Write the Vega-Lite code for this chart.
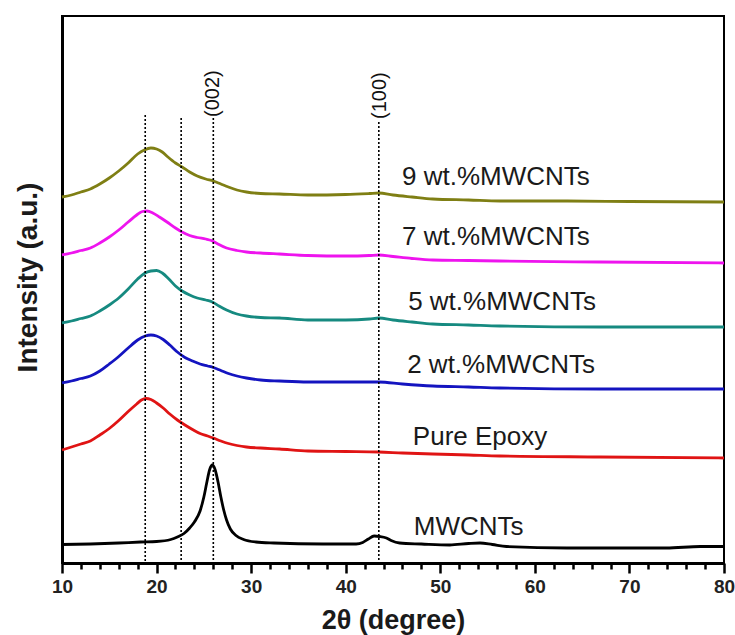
{
  "$schema": "https://vega.github.io/schema/vega-lite/v6.json",
  "width": 662,
  "height": 547,
  "autosize": {"type": "none"},
  "padding": {"left": 62, "top": 16, "right": 11, "bottom": 72},
  "background": "white",
  "config": {
    "view": {"stroke": "black", "strokeWidth": 2},
    "font": "Liberation Sans"
  },
  "datasets": {
    "curves": [
      {"s": "9 wt.%MWCNTs", "x": 10.0, "y": 366}, {"s": "9 wt.%MWCNTs", "x": 11.0, "y": 368}, {"s": "9 wt.%MWCNTs", "x": 12.0, "y": 371}, {"s": "9 wt.%MWCNTs", "x": 13.0, "y": 374}, {"s": "9 wt.%MWCNTs", "x": 14.0, "y": 379}, {"s": "9 wt.%MWCNTs", "x": 15.0, "y": 385}, {"s": "9 wt.%MWCNTs", "x": 16.0, "y": 392}, {"s": "9 wt.%MWCNTs", "x": 17.0, "y": 400}, {"s": "9 wt.%MWCNTs", "x": 18.0, "y": 409}, {"s": "9 wt.%MWCNTs", "x": 18.7, "y": 413}, {"s": "9 wt.%MWCNTs", "x": 19.4, "y": 415}, {"s": "9 wt.%MWCNTs", "x": 20.0, "y": 414}, {"s": "9 wt.%MWCNTs", "x": 20.6, "y": 411}, {"s": "9 wt.%MWCNTs", "x": 21.2, "y": 406}, {"s": "9 wt.%MWCNTs", "x": 22.0, "y": 400}, {"s": "9 wt.%MWCNTs", "x": 22.7, "y": 396}, {"s": "9 wt.%MWCNTs", "x": 23.5, "y": 391}, {"s": "9 wt.%MWCNTs", "x": 24.3, "y": 387}, {"s": "9 wt.%MWCNTs", "x": 25.2, "y": 384}, {"s": "9 wt.%MWCNTs", "x": 26.0, "y": 382}, {"s": "9 wt.%MWCNTs", "x": 26.8, "y": 379}, {"s": "9 wt.%MWCNTs", "x": 27.6, "y": 376}, {"s": "9 wt.%MWCNTs", "x": 28.5, "y": 373}, {"s": "9 wt.%MWCNTs", "x": 29.5, "y": 371}, {"s": "9 wt.%MWCNTs", "x": 31.0, "y": 369.5}, {"s": "9 wt.%MWCNTs", "x": 33.0, "y": 369}, {"s": "9 wt.%MWCNTs", "x": 36.0, "y": 368}, {"s": "9 wt.%MWCNTs", "x": 40.0, "y": 368.5}, {"s": "9 wt.%MWCNTs", "x": 42.5, "y": 369.5}, {"s": "9 wt.%MWCNTs", "x": 43.5, "y": 370}, {"s": "9 wt.%MWCNTs", "x": 45.0, "y": 368}, {"s": "9 wt.%MWCNTs", "x": 47.0, "y": 366}, {"s": "9 wt.%MWCNTs", "x": 49.2, "y": 364}, {"s": "9 wt.%MWCNTs", "x": 53.0, "y": 363}, {"s": "9 wt.%MWCNTs", "x": 56.3, "y": 362}, {"s": "9 wt.%MWCNTs", "x": 63.4, "y": 362}, {"s": "9 wt.%MWCNTs", "x": 70.0, "y": 361.5}, {"s": "9 wt.%MWCNTs", "x": 80.0, "y": 361},
      {"s": "7 wt.%MWCNTs", "x": 10.0, "y": 308}, {"s": "7 wt.%MWCNTs", "x": 11.0, "y": 310}, {"s": "7 wt.%MWCNTs", "x": 12.0, "y": 312.5}, {"s": "7 wt.%MWCNTs", "x": 13.0, "y": 315}, {"s": "7 wt.%MWCNTs", "x": 14.0, "y": 320}, {"s": "7 wt.%MWCNTs", "x": 15.0, "y": 326}, {"s": "7 wt.%MWCNTs", "x": 16.0, "y": 333}, {"s": "7 wt.%MWCNTs", "x": 17.0, "y": 341}, {"s": "7 wt.%MWCNTs", "x": 17.9, "y": 348}, {"s": "7 wt.%MWCNTs", "x": 18.5, "y": 351.5}, {"s": "7 wt.%MWCNTs", "x": 19.0, "y": 352}, {"s": "7 wt.%MWCNTs", "x": 19.6, "y": 350}, {"s": "7 wt.%MWCNTs", "x": 20.3, "y": 346}, {"s": "7 wt.%MWCNTs", "x": 21.1, "y": 341}, {"s": "7 wt.%MWCNTs", "x": 22.0, "y": 335}, {"s": "7 wt.%MWCNTs", "x": 22.7, "y": 331}, {"s": "7 wt.%MWCNTs", "x": 23.5, "y": 327.5}, {"s": "7 wt.%MWCNTs", "x": 24.3, "y": 325.5}, {"s": "7 wt.%MWCNTs", "x": 25.2, "y": 324}, {"s": "7 wt.%MWCNTs", "x": 25.8, "y": 322.5}, {"s": "7 wt.%MWCNTs", "x": 26.4, "y": 319.5}, {"s": "7 wt.%MWCNTs", "x": 27.4, "y": 315}, {"s": "7 wt.%MWCNTs", "x": 28.5, "y": 312.5}, {"s": "7 wt.%MWCNTs", "x": 29.5, "y": 311}, {"s": "7 wt.%MWCNTs", "x": 31.0, "y": 310}, {"s": "7 wt.%MWCNTs", "x": 33.0, "y": 309}, {"s": "7 wt.%MWCNTs", "x": 36.0, "y": 307.5}, {"s": "7 wt.%MWCNTs", "x": 40.0, "y": 307}, {"s": "7 wt.%MWCNTs", "x": 42.5, "y": 307.5}, {"s": "7 wt.%MWCNTs", "x": 43.5, "y": 308}, {"s": "7 wt.%MWCNTs", "x": 45.0, "y": 306.5}, {"s": "7 wt.%MWCNTs", "x": 47.0, "y": 304.5}, {"s": "7 wt.%MWCNTs", "x": 49.2, "y": 303}, {"s": "7 wt.%MWCNTs", "x": 53.0, "y": 302.5}, {"s": "7 wt.%MWCNTs", "x": 56.3, "y": 302}, {"s": "7 wt.%MWCNTs", "x": 66.9, "y": 301}, {"s": "7 wt.%MWCNTs", "x": 80.0, "y": 300},
      {"s": "5 wt.%MWCNTs", "x": 10.0, "y": 240}, {"s": "5 wt.%MWCNTs", "x": 11.0, "y": 242}, {"s": "5 wt.%MWCNTs", "x": 12.0, "y": 244.5}, {"s": "5 wt.%MWCNTs", "x": 13.0, "y": 247}, {"s": "5 wt.%MWCNTs", "x": 14.0, "y": 252}, {"s": "5 wt.%MWCNTs", "x": 15.0, "y": 258}, {"s": "5 wt.%MWCNTs", "x": 16.0, "y": 265}, {"s": "5 wt.%MWCNTs", "x": 17.0, "y": 274}, {"s": "5 wt.%MWCNTs", "x": 18.0, "y": 284}, {"s": "5 wt.%MWCNTs", "x": 18.7, "y": 289.5}, {"s": "5 wt.%MWCNTs", "x": 19.4, "y": 292}, {"s": "5 wt.%MWCNTs", "x": 20.0, "y": 292.5}, {"s": "5 wt.%MWCNTs", "x": 20.6, "y": 290}, {"s": "5 wt.%MWCNTs", "x": 21.3, "y": 284}, {"s": "5 wt.%MWCNTs", "x": 22.0, "y": 277}, {"s": "5 wt.%MWCNTs", "x": 22.7, "y": 272}, {"s": "5 wt.%MWCNTs", "x": 23.5, "y": 268}, {"s": "5 wt.%MWCNTs", "x": 24.3, "y": 265}, {"s": "5 wt.%MWCNTs", "x": 25.2, "y": 263}, {"s": "5 wt.%MWCNTs", "x": 25.9, "y": 261}, {"s": "5 wt.%MWCNTs", "x": 26.6, "y": 257}, {"s": "5 wt.%MWCNTs", "x": 27.4, "y": 253}, {"s": "5 wt.%MWCNTs", "x": 28.5, "y": 249}, {"s": "5 wt.%MWCNTs", "x": 29.5, "y": 247}, {"s": "5 wt.%MWCNTs", "x": 31.0, "y": 245.5}, {"s": "5 wt.%MWCNTs", "x": 33.0, "y": 245}, {"s": "5 wt.%MWCNTs", "x": 36.0, "y": 243}, {"s": "5 wt.%MWCNTs", "x": 40.0, "y": 243}, {"s": "5 wt.%MWCNTs", "x": 42.5, "y": 244}, {"s": "5 wt.%MWCNTs", "x": 43.5, "y": 245}, {"s": "5 wt.%MWCNTs", "x": 45.0, "y": 243}, {"s": "5 wt.%MWCNTs", "x": 47.0, "y": 241}, {"s": "5 wt.%MWCNTs", "x": 49.2, "y": 239}, {"s": "5 wt.%MWCNTs", "x": 53.0, "y": 238}, {"s": "5 wt.%MWCNTs", "x": 56.3, "y": 237}, {"s": "5 wt.%MWCNTs", "x": 66.9, "y": 236}, {"s": "5 wt.%MWCNTs", "x": 80.0, "y": 236},
      {"s": "2 wt.%MWCNTs", "x": 10.0, "y": 180}, {"s": "2 wt.%MWCNTs", "x": 11.0, "y": 182}, {"s": "2 wt.%MWCNTs", "x": 12.0, "y": 184.5}, {"s": "2 wt.%MWCNTs", "x": 13.0, "y": 187}, {"s": "2 wt.%MWCNTs", "x": 14.0, "y": 192}, {"s": "2 wt.%MWCNTs", "x": 15.0, "y": 199}, {"s": "2 wt.%MWCNTs", "x": 16.0, "y": 206.5}, {"s": "2 wt.%MWCNTs", "x": 17.0, "y": 215}, {"s": "2 wt.%MWCNTs", "x": 18.0, "y": 223}, {"s": "2 wt.%MWCNTs", "x": 18.8, "y": 227}, {"s": "2 wt.%MWCNTs", "x": 19.4, "y": 228}, {"s": "2 wt.%MWCNTs", "x": 20.0, "y": 227}, {"s": "2 wt.%MWCNTs", "x": 20.7, "y": 223.5}, {"s": "2 wt.%MWCNTs", "x": 21.4, "y": 218}, {"s": "2 wt.%MWCNTs", "x": 22.2, "y": 211}, {"s": "2 wt.%MWCNTs", "x": 23.0, "y": 205.5}, {"s": "2 wt.%MWCNTs", "x": 23.8, "y": 202}, {"s": "2 wt.%MWCNTs", "x": 24.6, "y": 199}, {"s": "2 wt.%MWCNTs", "x": 25.4, "y": 197}, {"s": "2 wt.%MWCNTs", "x": 26.0, "y": 195.5}, {"s": "2 wt.%MWCNTs", "x": 26.8, "y": 192.5}, {"s": "2 wt.%MWCNTs", "x": 27.6, "y": 189.5}, {"s": "2 wt.%MWCNTs", "x": 28.5, "y": 187}, {"s": "2 wt.%MWCNTs", "x": 29.5, "y": 185}, {"s": "2 wt.%MWCNTs", "x": 31.0, "y": 183}, {"s": "2 wt.%MWCNTs", "x": 33.0, "y": 182}, {"s": "2 wt.%MWCNTs", "x": 36.0, "y": 181}, {"s": "2 wt.%MWCNTs", "x": 40.0, "y": 181}, {"s": "2 wt.%MWCNTs", "x": 43.5, "y": 181}, {"s": "2 wt.%MWCNTs", "x": 46.0, "y": 179}, {"s": "2 wt.%MWCNTs", "x": 49.2, "y": 177}, {"s": "2 wt.%MWCNTs", "x": 53.0, "y": 176}, {"s": "2 wt.%MWCNTs", "x": 56.3, "y": 175}, {"s": "2 wt.%MWCNTs", "x": 66.9, "y": 174}, {"s": "2 wt.%MWCNTs", "x": 80.0, "y": 174},
      {"s": "Pure Epoxy", "x": 10.0, "y": 113}, {"s": "Pure Epoxy", "x": 11.0, "y": 116}, {"s": "Pure Epoxy", "x": 12.0, "y": 119}, {"s": "Pure Epoxy", "x": 13.0, "y": 122}, {"s": "Pure Epoxy", "x": 14.0, "y": 128}, {"s": "Pure Epoxy", "x": 15.0, "y": 134.5}, {"s": "Pure Epoxy", "x": 16.0, "y": 142.5}, {"s": "Pure Epoxy", "x": 17.0, "y": 151.5}, {"s": "Pure Epoxy", "x": 17.9, "y": 159}, {"s": "Pure Epoxy", "x": 18.4, "y": 163}, {"s": "Pure Epoxy", "x": 18.9, "y": 164.5}, {"s": "Pure Epoxy", "x": 19.4, "y": 163.5}, {"s": "Pure Epoxy", "x": 20.0, "y": 160}, {"s": "Pure Epoxy", "x": 20.7, "y": 155}, {"s": "Pure Epoxy", "x": 21.4, "y": 149}, {"s": "Pure Epoxy", "x": 22.2, "y": 143}, {"s": "Pure Epoxy", "x": 23.0, "y": 138}, {"s": "Pure Epoxy", "x": 23.8, "y": 133.5}, {"s": "Pure Epoxy", "x": 24.6, "y": 129.5}, {"s": "Pure Epoxy", "x": 25.4, "y": 127}, {"s": "Pure Epoxy", "x": 26.0, "y": 125}, {"s": "Pure Epoxy", "x": 26.8, "y": 122}, {"s": "Pure Epoxy", "x": 27.6, "y": 119.5}, {"s": "Pure Epoxy", "x": 28.5, "y": 117.5}, {"s": "Pure Epoxy", "x": 29.5, "y": 116}, {"s": "Pure Epoxy", "x": 31.0, "y": 115}, {"s": "Pure Epoxy", "x": 33.0, "y": 114}, {"s": "Pure Epoxy", "x": 36.0, "y": 112}, {"s": "Pure Epoxy", "x": 40.0, "y": 111.5}, {"s": "Pure Epoxy", "x": 43.5, "y": 111}, {"s": "Pure Epoxy", "x": 46.0, "y": 110}, {"s": "Pure Epoxy", "x": 49.2, "y": 109}, {"s": "Pure Epoxy", "x": 53.0, "y": 108}, {"s": "Pure Epoxy", "x": 56.3, "y": 107}, {"s": "Pure Epoxy", "x": 66.9, "y": 106}, {"s": "Pure Epoxy", "x": 80.0, "y": 105},
      {"s": "MWCNTs", "x": 10.0, "y": 18.5}, {"s": "MWCNTs", "x": 13.0, "y": 19}, {"s": "MWCNTs", "x": 16.0, "y": 20}, {"s": "MWCNTs", "x": 18.3, "y": 21}, {"s": "MWCNTs", "x": 20.0, "y": 21.5}, {"s": "MWCNTs", "x": 21.5, "y": 23.5}, {"s": "MWCNTs", "x": 22.2, "y": 26}, {"s": "MWCNTs", "x": 22.9, "y": 29.5}, {"s": "MWCNTs", "x": 23.5, "y": 35}, {"s": "MWCNTs", "x": 24.0, "y": 41}, {"s": "MWCNTs", "x": 24.6, "y": 52}, {"s": "MWCNTs", "x": 25.0, "y": 66}, {"s": "MWCNTs", "x": 25.3, "y": 80}, {"s": "MWCNTs", "x": 25.6, "y": 93}, {"s": "MWCNTs", "x": 25.9, "y": 98}, {"s": "MWCNTs", "x": 26.2, "y": 93}, {"s": "MWCNTs", "x": 26.5, "y": 81}, {"s": "MWCNTs", "x": 26.8, "y": 66}, {"s": "MWCNTs", "x": 27.1, "y": 53}, {"s": "MWCNTs", "x": 27.4, "y": 43}, {"s": "MWCNTs", "x": 27.8, "y": 34}, {"s": "MWCNTs", "x": 28.4, "y": 27.5}, {"s": "MWCNTs", "x": 29.2, "y": 23.5}, {"s": "MWCNTs", "x": 30.5, "y": 21}, {"s": "MWCNTs", "x": 32.4, "y": 20}, {"s": "MWCNTs", "x": 37.6, "y": 19}, {"s": "MWCNTs", "x": 41.1, "y": 19}, {"s": "MWCNTs", "x": 41.8, "y": 20.5}, {"s": "MWCNTs", "x": 42.4, "y": 24}, {"s": "MWCNTs", "x": 43.0, "y": 27}, {"s": "MWCNTs", "x": 43.6, "y": 26.5}, {"s": "MWCNTs", "x": 44.3, "y": 25}, {"s": "MWCNTs", "x": 44.8, "y": 22.5}, {"s": "MWCNTs", "x": 45.7, "y": 20}, {"s": "MWCNTs", "x": 48.0, "y": 19}, {"s": "MWCNTs", "x": 51.0, "y": 18}, {"s": "MWCNTs", "x": 53.0, "y": 19.5}, {"s": "MWCNTs", "x": 54.2, "y": 20}, {"s": "MWCNTs", "x": 55.5, "y": 18.5}, {"s": "MWCNTs", "x": 57.0, "y": 16.5}, {"s": "MWCNTs", "x": 63.4, "y": 15}, {"s": "MWCNTs", "x": 73.9, "y": 15}, {"s": "MWCNTs", "x": 77.5, "y": 16.5}, {"s": "MWCNTs", "x": 80.0, "y": 16.5}
    ],
    "guides": [
      {"x": 18.8, "top": 448, "base": 0},
      {"x": 22.6, "top": 445, "base": 0},
      {"x": 26.0, "top": 445, "base": 0},
      {"x": 43.5, "top": 441, "base": 0}
    ],
    "hkl": [
      {"label": "(002)", "x": 26.0, "y": 446},
      {"label": "(100)", "x": 43.6, "y": 444}
    ],
    "names": [
      {"label": "9 wt.%MWCNTs", "x": 45.95, "y": 386},
      {"label": "7 wt.%MWCNTs", "x": 45.95, "y": 326},
      {"label": "5 wt.%MWCNTs", "x": 46.6, "y": 261},
      {"label": "2 wt.%MWCNTs", "x": 46.5, "y": 198},
      {"label": "Pure Epoxy", "x": 47.1, "y": 126},
      {"label": "MWCNTs", "x": 47.2, "y": 36}
    ]
  },
  "resolve": {"axis": {"x": "independent"}},
  "layer": [
    {
      "data": {"name": "curves"},
      "mark": {"type": "line", "strokeWidth": 2.8, "interpolate": "monotone"},
      "encoding": {
        "x": {
          "field": "x", "type": "quantitative",
          "scale": {"domain": [10, 80], "nice": false, "zero": false},
          "axis": {
            "orient": "bottom",
            "values": [10, 20, 30, 40, 50, 60, 70, 80],
            "title": "2θ (degree)",
            "titleFont": "Liberation Sans", "titleFontSize": 27, "titleFontWeight": "bold", "titleColor": "#1a1a1a",
            "titlePadding": 11,
            "labelFont": "Liberation Sans", "labelFontSize": 19, "labelFontWeight": "bold", "labelColor": "#222222",
            "labelPadding": 4, "labelFlush": false, "labelOverlap": false,
            "tickSize": 10, "tickWidth": 2.5, "tickColor": "black",
            "domainColor": "black", "domainWidth": 3, "grid": false
          }
        },
        "y": {
          "field": "y", "type": "quantitative",
          "scale": {"domain": [0, 547], "nice": false, "zero": false},
          "axis": {
            "orient": "left",
            "title": "Intensity (a.u.)",
            "titleFont": "Liberation Sans", "titleFontSize": 28, "titleFontWeight": "bold", "titleColor": "#1a1a1a",
            "titlePadding": 20, "titleX": -20, "titleY": 261,
            "labels": false, "ticks": false, "grid": false,
            "domainColor": "black", "domainWidth": 3
          }
        },
        "color": {
          "field": "s", "type": "nominal", "legend": null,
          "scale": {
            "domain": ["9 wt.%MWCNTs", "7 wt.%MWCNTs", "5 wt.%MWCNTs", "2 wt.%MWCNTs", "Pure Epoxy", "MWCNTs"],
            "range": ["#7f7f14", "#ee14ee", "#168a80", "#1414c0", "#e01414", "#000000"]
          }
        }
      }
    },
    {
      "data": {"name": "guides"},
      "mark": {"type": "rule", "color": "black", "strokeWidth": 1.6, "strokeDash": [2, 2]},
      "encoding": {
        "x": {
          "field": "x", "type": "quantitative",
          "axis": {
            "orient": "bottom",
            "values": [12, 14, 16, 18, 22, 24, 26, 28, 32, 34, 36, 38, 42, 44, 46, 48, 52, 54, 56, 58, 62, 64, 66, 68, 72, 74, 76, 78],
            "labels": false, "title": null, "domain": false, "grid": false,
            "tickSize": 6, "tickWidth": 2.5, "tickColor": "black"
          }
        },
        "y": {"field": "top", "type": "quantitative"},
        "y2": {"field": "base"}
      }
    },
    {
      "data": {"name": "hkl"},
      "mark": {"type": "text", "angle": 270, "align": "left", "baseline": "middle", "font": "Liberation Sans", "fontSize": 20, "color": "#111111"},
      "encoding": {
        "x": {"field": "x", "type": "quantitative", "axis": null},
        "y": {"field": "y", "type": "quantitative"},
        "text": {"field": "label"}
      }
    },
    {
      "data": {"name": "names"},
      "mark": {"type": "text", "align": "left", "baseline": "middle", "font": "Liberation Sans", "fontSize": 26, "color": "#1a1a1a"},
      "encoding": {
        "x": {"field": "x", "type": "quantitative", "axis": null},
        "y": {"field": "y", "type": "quantitative"},
        "text": {"field": "label"}
      }
    }
  ]
}
